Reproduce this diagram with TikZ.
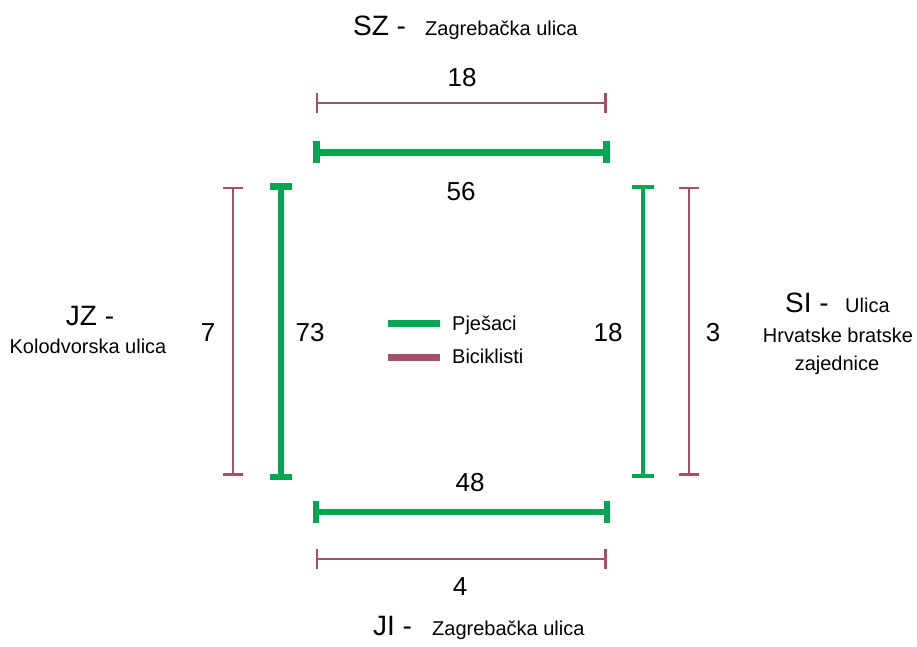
\documentclass[tikz,border=0pt]{standalone}
\usepackage{fontspec}
\setmainfont{Liberation Sans}
\usetikzlibrary{arrows.meta}
\definecolor{pgreen}{RGB}{0,166,81}
\definecolor{bred}{RGB}{166,80,102}
\tikzset{
  pbar/.style={draw=pgreen, {Bar[width=22pt]}-{Bar[width=22pt]}},
  bbar/.style={draw=bred, line width=2.2pt, {Bar[width=20pt,line width=2.2pt]}-{Bar[width=20pt,line width=3.5pt]}},
  num/.style={font=\fontsize{26}{28}\selectfont, inner sep=0pt, anchor=center},
  small/.style={font=\fontsize{20}{22}\selectfont, inner sep=0pt},
  big/.style={font=\fontsize{28}{30}\selectfont, inner sep=0pt},
}
\begin{document}
\begin{tikzpicture}[x=1pt,y=-1pt]
\useasboundingbox (0,0) rectangle (917,646);
% coordinates
\coordinate (tr1) at (316,103); \coordinate (tr2) at (607,103);
\coordinate (tg1) at (313,152); \coordinate (tg2) at (610,152);
\coordinate (lr1) at (233,187); \coordinate (lr2) at (233,476);
\coordinate (lg1) at (281,183); \coordinate (lg2) at (281,480);
\coordinate (rg1) at (643,185); \coordinate (rg2) at (643,478);
\coordinate (rr1) at (689,187); \coordinate (rr2) at (689,476);
\coordinate (bg1) at (313,512); \coordinate (bg2) at (610,512);
\coordinate (br1) at (316,559); \coordinate (br2) at (607,559);
\coordinate (lgA) at (388,323); \coordinate (lgB) at (440,323);
\coordinate (lrA) at (388,357); \coordinate (lrB) at (440,357);
% bars
\draw[bbar] (tr1) -- (tr2);
\draw[pbar, line width=7pt] (tg1) -- (tg2);
\draw[bbar] (lr1) -- (lr2);
\draw[pbar, line width=6.5pt] (lg1) -- (lg2);
\draw[pbar, line width=4pt] (rg1) -- (rg2);
\draw[bbar] (rr1) -- (rr2);
\draw[pbar, line width=6pt] (bg1) -- (bg2);
\draw[bbar] (br1) -- (br2);
% legend
\draw[pgreen, line width=7pt] (lgA) -- (lgB);
\draw[bred, line width=7pt] (lrA) -- (lrB);
\node[small, anchor=base west] (lp) at (452,330) {Pješaci};
\node[small, anchor=base west] (lb) at (452,363) {Biciklisti};
% numbers
\node[num] (n18t) at (462,78) {18};
\node[num] (n56) at (461,192) {56};
\node[num] (n7) at (208,333) {7};
\node[num] (n73) at (310,333) {73};
\node[num] (n18r) at (608,333) {18};
\node[num] (n3) at (713,333) {3};
\node[num] (n48) at (470,483) {48};
\node[num] (n4) at (460,587) {4};
% street labels
\node[big, anchor=base west] (sz) at (353,35) {SZ -};
\node[small, anchor=base west] (szs) at (425,35) {Zagrebačka ulica};
\node[big, anchor=base west] (ji) at (373,635) {JI -};
\node[small, anchor=base west] (jis) at (432,635) {Zagrebačka ulica};
\node[big, anchor=base] (jz) at (90,325) {JZ -};
\node[small, anchor=base] (jzs) at (88,353) {Kolodvorska ulica};
\node[big, anchor=base west] (si) at (785,312) {SI -};
\node[small, anchor=base west] (sis) at (845,312) {Ulica};
\node[small, anchor=base] (si2) at (838,342) {Hrvatske bratske};
\node[small, anchor=base] (si3) at (837,370) {zajednice};
\end{tikzpicture}
\end{document}
